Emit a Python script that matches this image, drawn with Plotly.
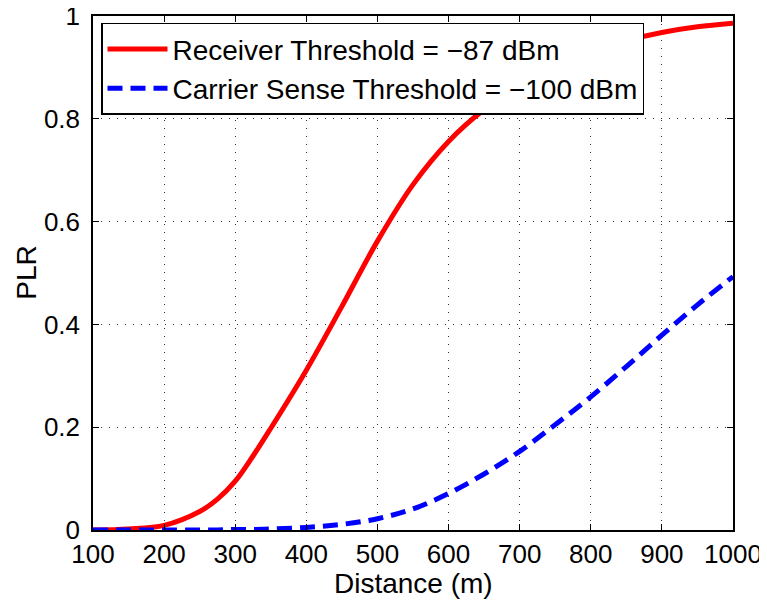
import plotly.graph_objects as go

distance = [100, 150, 200, 250, 275, 300, 325, 350, 400, 450, 500, 550, 600, 650, 700, 750, 800, 850, 900, 950, 1000]
plr_rx = [0.0, 0.002, 0.009, 0.036, 0.060, 0.095, 0.144, 0.198, 0.311, 0.435, 0.562, 0.672, 0.756, 0.818, 0.865, 0.902, 0.93, 0.952, 0.968, 0.979, 0.986]
plr_cs = [0.0, 0.0, 0.0, 0.0, 0.0, 0.001, 0.001, 0.002, 0.005, 0.011, 0.022, 0.041, 0.071, 0.109, 0.153, 0.205, 0.259, 0.318, 0.379, 0.438, 0.493]

name_rx = "Receiver Threshold = \u221287 dBm"
name_cs = "Carrier Sense Threshold = \u2212100 dBm"

x_ticks = [100, 200, 300, 400, 500, 600, 700, 800, 900, 1000]
y_ticks = [0, 0.2, 0.4, 0.6, 0.8, 1]
y_tick_text = ["0", "0.2", "0.4", "0.6", "0.8", "1"]
x_title = "Distance (m)"
y_title = "PLR"

FONT = "Liberation Sans, Arial, Helvetica, sans-serif"

fig = go.Figure()
fig.add_trace(go.Scatter(x=distance, y=plr_rx, mode="lines", name=name_rx,
                         line=dict(color="#ff0000", width=5, shape="spline", smoothing=1.0)))
fig.add_trace(go.Scatter(x=distance, y=plr_cs, mode="lines", name=name_cs,
                         line=dict(color="#0000ff", width=5, dash="15px,8px", shape="spline", smoothing=1.0)))

axis_common = dict(
    showline=True, linecolor="black", linewidth=1.5, mirror="ticks",
    ticks="inside", ticklen=6, tickcolor="black", tickwidth=1,
    showgrid=True, gridcolor="#333333", gridwidth=1, griddash="1px,7px",
    zeroline=False, automargin=False, ticklabeloverflow="allow",
    tickfont=dict(family=FONT, size=26, color="black"),
)

fig.update_xaxes(range=[100, 1000], tickvals=x_ticks, **axis_common)
fig.update_yaxes(range=[0, 1], tickvals=y_ticks, ticktext=y_tick_text,
                 ticklabelstandoff=6, **axis_common)

fig.add_annotation(text=x_title, xref="paper", yref="paper", x=0.5, y=-0.104,
                   xanchor="center", yanchor="middle", showarrow=False,
                   font=dict(family=FONT, size=28, color="black"))
fig.add_annotation(text=y_title, xref="paper", yref="paper", x=-0.105, y=0.50,
                   xanchor="center", yanchor="middle", showarrow=False, textangle=-90,
                   font=dict(family=FONT, size=28, color="black"))

# the page body has an 8px margin, so the figure is drawn 8px smaller and shifted
fig.update_layout(
    width=759, height=597,
    margin=dict(l=85, r=34, t=8, b=75, autoexpand=False),
    paper_bgcolor="white", plot_bgcolor="white",
    font=dict(family=FONT, size=26, color="black"),
    showlegend=True,
    legend=dict(x=0.0125, y=0.987, xanchor="left", yanchor="top",
                bgcolor="white", bordercolor="black", borderwidth=1.5,
                font=dict(family=FONT, size=28, color="black"),
                itemwidth=60, tracegroupgap=0),
)

fig.write_html("out.html")
